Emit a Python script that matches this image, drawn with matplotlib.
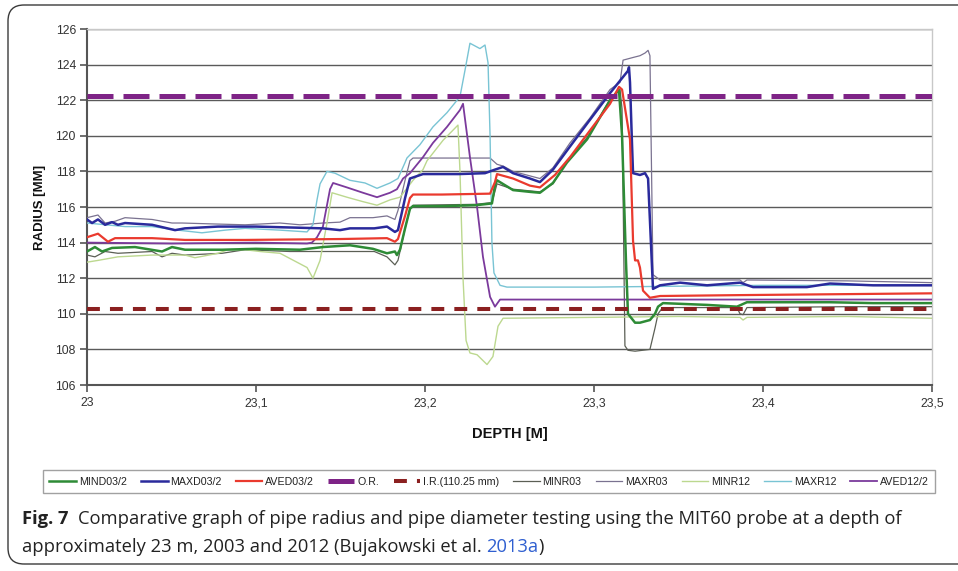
import matplotlib
matplotlib.use("Agg")
import matplotlib.pyplot as plt
from matplotlib.patches import FancyBboxPatch

plt.rcParams['font.family'] = ['Liberation Sans', 'DejaVu Sans']

# ---------------- data ----------------
mind03_d = [23.000, 23.0047, 23.0089, 23.0148, 23.0284, 23.0444, 23.0503, 23.058, 23.08, 23.10,
            23.126, 23.1396, 23.1556, 23.1692, 23.1775, 23.1822, 23.1834, 23.1852, 23.1882, 23.1911,
            23.1929, 23.21, 23.23, 23.2396, 23.2414, 23.2426, 23.2521, 23.2621, 23.268, 23.2757,
            23.284, 23.2959, 23.3036, 23.3095, 23.3136, 23.3148, 23.3166, 23.3189, 23.3201, 23.3243,
            23.3272, 23.3331, 23.3361, 23.3379, 23.3408, 23.3669, 23.3846, 23.3905, 23.4396, 23.4651, 23.5]
mind03_v = [113.5, 113.75, 113.5, 113.7, 113.75, 113.5, 113.75, 113.6, 113.6, 113.65,
            113.6, 113.75, 113.85, 113.65, 113.4, 113.5, 113.3, 113.6, 114.8, 115.9,
            116.05, 116.05, 116.1, 116.2, 117.2, 117.5, 116.95, 116.85, 116.8, 117.35,
            118.5, 119.8, 121.05, 122.0, 122.45, 122.55, 120.0, 113.0, 110.0, 109.5,
            109.5, 109.65, 110.0, 110.4, 110.6, 110.5, 110.4, 110.65, 110.65, 110.6, 110.6]

maxd03_d = [23.000, 23.003, 23.0065, 23.0107, 23.0148, 23.0183, 23.0225, 23.0385, 23.0521, 23.058,
            23.0775, 23.1, 23.1396, 23.1497, 23.1556, 23.17, 23.1775, 23.1822, 23.184, 23.1882,
            23.1911, 23.1988, 23.22, 23.2355, 23.2414, 23.2462, 23.2521, 23.2621, 23.268, 23.2757,
            23.2858, 23.2976, 23.3095, 23.3201, 23.3207, 23.3213, 23.3225, 23.3231, 23.3272, 23.3302,
            23.332, 23.3349, 23.3391, 23.3509, 23.3669, 23.3864, 23.3941, 23.426, 23.4396, 23.4651, 23.5]
maxd03_v = [115.3, 115.1, 115.3, 115.0, 115.15, 115.0, 115.1, 115.0, 114.7, 114.8,
            114.9, 114.9, 114.8, 114.7, 114.8, 114.8, 114.9, 114.6, 114.7, 116.5,
            117.6, 117.85, 117.85, 117.9, 118.1, 118.25, 117.9, 117.6, 117.4, 118.1,
            119.4, 120.9, 122.4, 123.65, 123.85, 123.0, 119.5, 117.9, 117.8, 117.9,
            117.6, 111.4, 111.6, 111.75, 111.6, 111.75, 111.5, 111.5, 111.7, 111.6, 111.6]

aved03_d = [23.000, 23.0065, 23.0124, 23.0166, 23.0385, 23.058, 23.0935, 23.1497, 23.1775, 23.1822,
            23.184, 23.1882, 23.1911, 23.1929, 23.21, 23.2385, 23.2414, 23.2426, 23.2521, 23.2621,
            23.268, 23.2769, 23.2858, 23.2976, 23.3095, 23.3148, 23.3166, 23.3213, 23.3231, 23.3243,
            23.326, 23.3272, 23.329, 23.3331, 23.3391, 23.3864, 23.5]
aved03_v = [114.3, 114.5, 114.05, 114.25, 114.25, 114.15, 114.15, 114.2, 114.25, 114.05,
            114.2, 115.5, 116.5, 116.7, 116.7, 116.75, 117.4, 117.85, 117.6, 117.2,
            117.1, 117.8, 118.8, 120.3, 121.8, 122.75, 122.6, 119.8, 114.1, 113.0,
            113.0, 112.6, 111.3, 110.9, 111.0, 111.05, 111.15]

minr03_d = [23.000, 23.0047, 23.0107, 23.0183, 23.0385, 23.0444, 23.0503, 23.058, 23.08, 23.0935,
            23.12, 23.15, 23.17, 23.1775, 23.1822, 23.184, 23.1852, 23.1882, 23.1911, 23.1929,
            23.23, 23.2396, 23.2426, 23.2521, 23.268, 23.2757, 23.284, 23.2959, 23.3036, 23.3095,
            23.3136, 23.3154, 23.3166, 23.3183, 23.3201, 23.3243, 23.3331, 23.3361, 23.3379, 23.3402,
            23.3467, 23.3846, 23.3864, 23.3882, 23.3905, 23.45, 23.5]
minr03_v = [113.3, 113.2, 113.5, 113.4, 113.5, 113.2, 113.4, 113.3, 113.4, 113.6,
            113.5, 113.5, 113.5, 113.2, 112.75, 113.0, 113.5, 114.8, 115.9, 116.1,
            116.15, 116.25, 117.3, 117.0, 116.85, 117.3, 118.6, 119.9, 121.1, 122.05,
            122.5, 122.6, 121.5, 108.2, 107.95, 107.9, 108.0, 109.2, 110.0, 110.3,
            110.35, 110.35, 110.0, 109.95, 110.35, 110.4, 110.4]

maxr03_d = [23.000, 23.0065, 23.0107, 23.0166, 23.0225, 23.0385, 23.0503, 23.0562, 23.074, 23.0935,
            23.1142, 23.126, 23.1396, 23.1497, 23.1556, 23.1692, 23.1775, 23.1822, 23.184, 23.1882,
            23.1911, 23.1929, 23.23, 23.2385, 23.2426, 23.2462, 23.2521, 23.268, 23.2757, 23.2858,
            23.2976, 23.3095, 23.3154, 23.3172, 23.3231, 23.3272, 23.3302, 23.332, 23.3331, 23.3349,
            23.3391, 23.3864, 23.3882, 23.3905, 23.45, 23.5]
maxr03_v = [115.4, 115.55, 115.1, 115.2, 115.4, 115.3, 115.1, 115.1, 115.05, 115.0,
            115.1, 115.0, 115.1, 115.15, 115.4, 115.4, 115.5, 115.3, 115.8, 117.5,
            118.6, 118.75, 118.75, 118.75, 118.4, 118.3, 118.0, 117.6, 118.2, 119.6,
            121.0, 122.6, 123.0, 124.25, 124.4, 124.5, 124.65, 124.8, 124.5, 112.2,
            111.9, 111.9, 111.75, 111.9, 111.85, 111.75]

minr12_d = [23.000, 23.0065, 23.0183, 23.0385, 23.058, 23.0639, 23.0775, 23.0834, 23.0935, 23.1024,
            23.1142, 23.1302, 23.1337, 23.1379, 23.142, 23.145, 23.1538, 23.1633, 23.1716, 23.1793,
            23.1852, 23.1929, 23.1988, 23.2012, 23.2107, 23.2195, 23.2207, 23.2225, 23.2243, 23.2266,
            23.2308, 23.2367, 23.2402, 23.2432, 23.2462, 23.3, 23.35, 23.3864, 23.3882, 23.3905,
            23.45, 23.5]
minr12_v = [112.9, 113.0, 113.2, 113.3, 113.3, 113.15, 113.4, 113.6, 113.6, 113.5,
            113.4, 112.6, 112.0, 113.0, 115.1, 116.8, 116.55, 116.3, 116.1, 116.4,
            116.55, 117.5, 118.1, 118.6, 119.75, 120.6, 118.0, 112.0, 108.5, 107.8,
            107.7, 107.15, 107.6, 109.3, 109.75, 109.8, 109.85, 109.8, 109.65, 109.8,
            109.85, 109.75]

maxr12_d = [23.000, 23.0225, 23.0385, 23.0538, 23.068, 23.0817, 23.0935, 23.1142, 23.1302, 23.1337,
            23.1361, 23.1379, 23.142, 23.1467, 23.1556, 23.1645, 23.1716, 23.1793, 23.184, 23.1882,
            23.1893, 23.197, 23.2047, 23.213, 23.2207, 23.2237, 23.2266, 23.2325, 23.2355, 23.2373,
            23.2385, 23.2396, 23.2408, 23.2444, 23.2485, 23.3, 23.35, 23.4, 23.5]
maxr12_v = [115.1, 114.9, 114.9, 114.7, 114.55, 114.7, 114.8, 114.7, 114.6, 115.0,
            116.4, 117.3, 118.0, 117.9, 117.5, 117.35, 117.05, 117.35, 117.6, 118.5,
            118.75, 119.5, 120.5, 121.3, 122.2, 123.7, 125.2, 124.9, 125.1, 124.1,
            120.0, 114.0, 112.3, 111.6, 111.5, 111.5, 111.55, 111.6, 111.6]

aved12_d = [23.000, 23.05, 23.1, 23.1302, 23.1331, 23.1361, 23.1396, 23.1408, 23.1426, 23.1438,
            23.1456, 23.1538, 23.1633, 23.1716, 23.1793, 23.1834, 23.187, 23.1911, 23.1988, 23.2047,
            23.213, 23.2207, 23.2225, 23.2266, 23.2308, 23.2343, 23.2385, 23.2414, 23.2444, 23.26,
            23.3, 23.35, 23.4, 23.5]
aved12_v = [114.0, 113.95, 114.0, 113.95, 114.0, 114.3, 114.9, 115.5, 116.4, 117.0,
            117.35, 117.1, 116.8, 116.55, 116.8, 117.0, 117.6, 117.9, 118.8, 119.6,
            120.5, 121.45, 121.8, 118.8, 116.0, 113.2, 110.95, 110.4, 110.8, 110.8,
            110.8, 110.8, 110.8, 110.8]

or_value = 122.25
ir_value = 110.25

series_names = ["MIND03/2", "MAXD03/2", "AVED03/2", "O.R.", "I.R.(110.25 mm)",
                "MINR03", "MAXR03", "MINR12", "MAXR12", "AVED12/2"]
x_ticks = [23.0, 23.1, 23.2, 23.3, 23.4, 23.5]
x_tick_labels = ["23", "23,1", "23,2", "23,3", "23,4", "23,5"]
y_ticks = [106, 108, 110, 112, 114, 116, 118, 120, 122, 124, 126]

# ---------------- figure ----------------
fig = plt.figure(figsize=(9.58, 5.71), dpi=100)
fig.patch.set_facecolor("white")

# rounded outer frame
frame = FancyBboxPatch((0.08, 0.07), 9.75, 5.59,
                       boxstyle="round,pad=0,rounding_size=0.16",
                       transform=fig.dpi_scale_trans, facecolor="none",
                       edgecolor="#3a3a3a", linewidth=1.0, zorder=0)
fig.add_artist(frame)

ax = fig.add_axes([87/958, 186/571, 845/958, 356/571])
ax.set_xlim(23.0, 23.5)
ax.set_ylim(106, 126)

ax.set_yticks(y_ticks)
ax.set_xticks(x_ticks)
ax.set_xticklabels(x_tick_labels)
ax.tick_params(axis="both", direction="out", length=5, width=1.2, color="#555555",
               labelsize=8.8, labelcolor="#333333")
ax.tick_params(axis="x", pad=4)
ax.tick_params(axis="y", pad=3)
ax.yaxis.grid(True, color="#5a5a5a", linewidth=1.0)
ax.set_axisbelow(True)
for s in ["left", "bottom"]:
    ax.spines[s].set_color("#555555")
    ax.spines[s].set_linewidth(1.5)
for s in ["top", "right"]:
    ax.spines[s].set_color("#c8c8c8")
    ax.spines[s].set_linewidth(1.0)

handles = []
h, = ax.plot(mind03_d, mind03_v, color="#2e8b36", lw=1.8, zorder=4, label=series_names[0]); handles.append(h)
h, = ax.plot(maxd03_d, maxd03_v, color="#2a2a9c", lw=1.8, zorder=4, label=series_names[1]); handles.append(h)
h, = ax.plot(aved03_d, aved03_v, color="#ea3a2e", lw=1.6, zorder=4, label=series_names[2]); handles.append(h)
h = ax.axhline(or_value, color="#7e2386", lw=3.6, dashes=(5.2, 2.0), zorder=5, label=series_names[3]); handles.append(h)
h = ax.axhline(ir_value, color="#8b2020", lw=2.9, dashes=(3.2, 2.5), dash_capstyle="butt",
               zorder=5, label=series_names[4]); handles.append(h)
h, = ax.plot(minr03_d, minr03_v, color="#5b5f55", lw=0.9, zorder=3, label=series_names[5]); handles.append(h)
h, = ax.plot(maxr03_d, maxr03_v, color="#7a7290", lw=0.9, zorder=3, label=series_names[6]); handles.append(h)
h, = ax.plot(minr12_d, minr12_v, color="#bcd88f", lw=1.0, zorder=3, label=series_names[7]); handles.append(h)
h, = ax.plot(maxr12_d, maxr12_v, color="#79c4d4", lw=1.0, zorder=3, label=series_names[8]); handles.append(h)
h, = ax.plot(aved12_d, aved12_v, color="#7b3a9c", lw=1.3, zorder=3.5, label=series_names[9]); handles.append(h)

# axis labels
fig.text(40/958, 1 - 207/571, "RADIUS [MM]", rotation=90, ha="center", va="center",
         fontsize=9.5, fontweight="bold", color="#111111")
fig.text(510/958, 1 - 434/571, "DEPTH [M]", ha="center", va="center",
         fontsize=10.5, fontweight="bold", color="#111111")

# legend
leg = fig.legend(handles=handles, labels=series_names, ncol=10, mode="expand",
                 loc="lower left", bbox_to_anchor=(43/958, 1 - 493/571, 892/958, 23/571),
                 fontsize=7.7, handlelength=2.5, handletextpad=0.25, columnspacing=0.4,
                 borderpad=0.6, frameon=True, fancybox=False, borderaxespad=0)
leg.get_frame().set_edgecolor("#8a8a8a")
leg.get_frame().set_linewidth(1.0)
for t in leg.get_texts():
    t.set_color("#222222")

# caption
cap_font = ["Open Sans", "DejaVu Sans"]
cap_size = 13.2
fig.canvas.draw()
renderer = fig.canvas.get_renderer()

def place_run(x_px, y_px, s, **kw):
    t = fig.text(x_px / 958, 1 - y_px / 571, s, ha="left", va="baseline",
                 fontsize=cap_size, family=cap_font, **kw)
    bb = t.get_window_extent(renderer=renderer)
    return bb.x1

x_end = place_run(22, 524, "Fig. 7", fontweight="bold", color="#222222")
place_run(x_end + 9, 524,
          "Comparative graph of pipe radius and pipe diameter testing using the MIT60 probe at a depth of",
          color="#222222")
x_end = place_run(22, 552, "approximately 23 m, 2003 and 2012 (Bujakowski et al. ", color="#222222")
x_end = place_run(x_end, 552, "2013a", color="#2f5fd0")
place_run(x_end, 552, ")", color="#222222")

fig.savefig("out.png", dpi=100)
